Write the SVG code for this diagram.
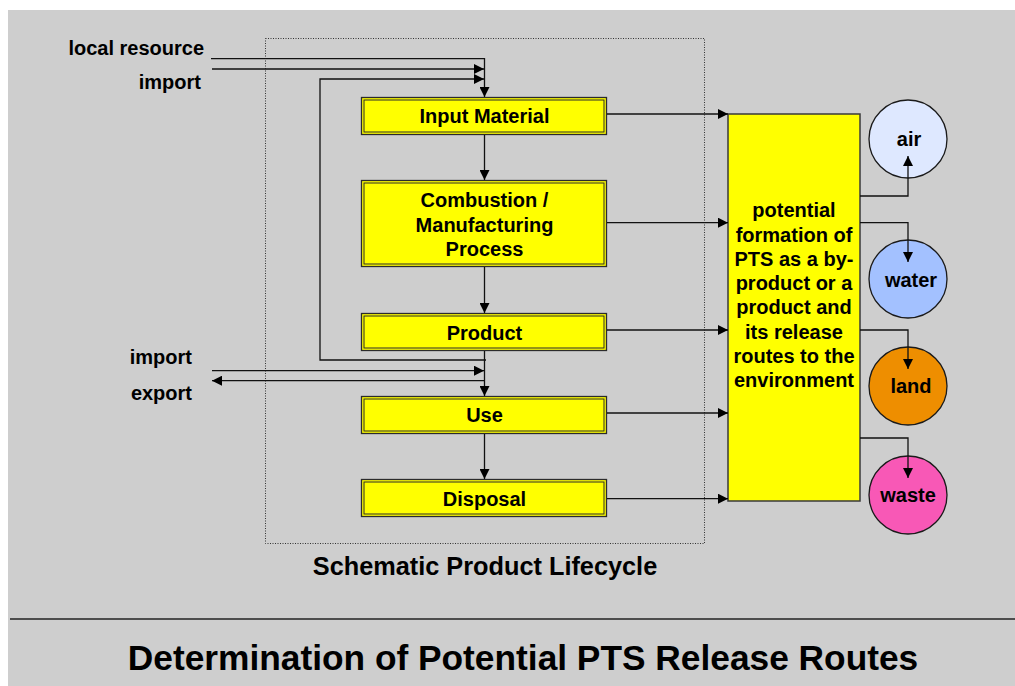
<svg xmlns="http://www.w3.org/2000/svg" width="1015" height="686" viewBox="0 0 1015 686">
<style>
text{font-family:"Liberation Sans",Arial,sans-serif;font-weight:bold;fill:#000}
.lbl{font-size:20px}
.bt{font-size:20px;text-anchor:middle}
.outer{fill:#FFFF00;stroke:#2b2b2b;stroke-width:1.3}
.inner{fill:none;stroke:#2b2b2b;stroke-width:1}
.ln{fill:none;stroke:#111;stroke-width:1.3}
.circ{stroke:#1a1a1a;stroke-width:1.3}
</style>
<defs>
<marker id="ah" viewBox="0 0 10 10" refX="10" refY="5" markerWidth="10" markerHeight="10" markerUnits="userSpaceOnUse" orient="auto">
<path d="M0,0 L10,5 L0,10 z" fill="#000"/>
</marker>
</defs>
<rect x="8" y="10" width="1007" height="676" fill="#CECECE"/>
<line x1="10" y1="619" x2="1015" y2="619" stroke="#222" stroke-width="1.6"/>
<rect id="lifecycle-frame" x="265.5" y="38.5" width="439" height="505" fill="none" stroke="#333" stroke-width="1" stroke-dasharray="1,1.5"/>

<g id="labels">
<text class="lbl" x="204" y="55" text-anchor="end">local resource</text>
<text class="lbl" x="201" y="89" text-anchor="end">import</text>
<text class="lbl" x="192" y="364" text-anchor="end">import</text>
<text class="lbl" x="192" y="400" text-anchor="end">export</text>
<text x="485" y="575" font-size="25.3" text-anchor="middle">Schematic Product Lifecycle</text>
<text x="523" y="670" font-size="35.3" text-anchor="middle">Determination of Potential PTS Release Routes</text>
</g>

<g id="input-material">
<rect class="outer" x="361.5" y="97.5" width="245" height="37"/>
<rect class="inner" x="364" y="100" width="240" height="32"/>
<text class="bt" x="484.5" y="123">Input Material</text>
</g>
<g id="combustion">
<rect class="outer" x="361.5" y="180.5" width="245" height="86"/>
<rect class="inner" x="364" y="183" width="240" height="81"/>
<text class="bt" x="484.5" y="207">Combustion /</text>
<text class="bt" x="484.5" y="231.5">Manufacturing</text>
<text class="bt" x="484.5" y="256">Process</text>
</g>
<g id="product">
<rect class="outer" x="361.5" y="313.5" width="245" height="37"/>
<rect class="inner" x="364" y="316" width="240" height="32"/>
<text class="bt" x="484.5" y="340">Product</text>
</g>
<g id="use">
<rect class="outer" x="361.5" y="396.5" width="245" height="37"/>
<rect class="inner" x="364" y="399" width="240" height="32"/>
<text class="bt" x="484.5" y="422">Use</text>
</g>
<g id="disposal">
<rect class="outer" x="361.5" y="479.5" width="245" height="37"/>
<rect class="inner" x="364" y="482" width="240" height="32"/>
<text class="bt" x="484.5" y="506">Disposal</text>
</g>

<g id="formation">
<rect x="728" y="114" width="132" height="387" fill="#FFFF00" stroke="#3a3a3a" stroke-width="1.5"/>
<text class="bt" x="794" y="217">potential</text>
<text class="bt" x="794" y="241.5">formation of</text>
<text class="bt" x="794" y="266">PTS as a by-</text>
<text class="bt" x="794" y="290">product or a</text>
<text class="bt" x="794" y="314">product and</text>
<text class="bt" x="794" y="339">its release</text>
<text class="bt" x="794" y="363">routes to the</text>
<text class="bt" x="794" y="387">environment</text>
</g>

<g id="air">
<circle class="circ" cx="908" cy="139" r="39" fill="#DEE8FF"/>
<text class="bt" x="909" y="146">air</text>
</g>
<g id="water">
<circle class="circ" cx="908" cy="279" r="39" fill="#A3C1FF"/>
<text class="bt" x="911" y="287">water</text>
</g>
<g id="land">
<circle class="circ" cx="908" cy="386" r="39" fill="#EE8E00"/>
<text class="bt" x="911" y="393">land</text>
</g>
<g id="waste">
<circle class="circ" cx="908" cy="495" r="39" fill="#F858B6"/>
<text class="bt" x="908" y="502">waste</text>
</g>

<g id="connectors">
<path class="ln" d="M211,58.7 H484.5 V97" marker-end="url(#ah)"/>
<path class="ln" d="M212,69 H484" marker-end="url(#ah)"/>
<path class="ln" d="M486,360 H320 V79 H484" marker-end="url(#ah)"/>
<path class="ln" d="M484.5,135 V180" marker-end="url(#ah)"/>
<path class="ln" d="M484.5,267 V313" marker-end="url(#ah)"/>
<path class="ln" d="M484.5,351 V396" marker-end="url(#ah)"/>
<path class="ln" d="M212,370.7 H484" marker-end="url(#ah)"/>
<path class="ln" d="M484.5,380.7 H212" marker-end="url(#ah)"/>
<path class="ln" d="M484.5,434 V479" marker-end="url(#ah)"/>
<path class="ln" d="M607,114 H728" marker-end="url(#ah)"/>
<path class="ln" d="M607,222.7 H728" marker-end="url(#ah)"/>
<path class="ln" d="M607,330 H728" marker-end="url(#ah)"/>
<path class="ln" d="M607,413 H728" marker-end="url(#ah)"/>
<path class="ln" d="M607,498.7 H728" marker-end="url(#ah)"/>
<path class="ln" d="M860,196 H908 V156" marker-end="url(#ah)"/>
<path class="ln" d="M860,222.7 H908 V262" marker-end="url(#ah)"/>
<path class="ln" d="M860,330 H908 V369" marker-end="url(#ah)"/>
<path class="ln" d="M860,438 H908 V478" marker-end="url(#ah)"/>
</g>
</svg>
